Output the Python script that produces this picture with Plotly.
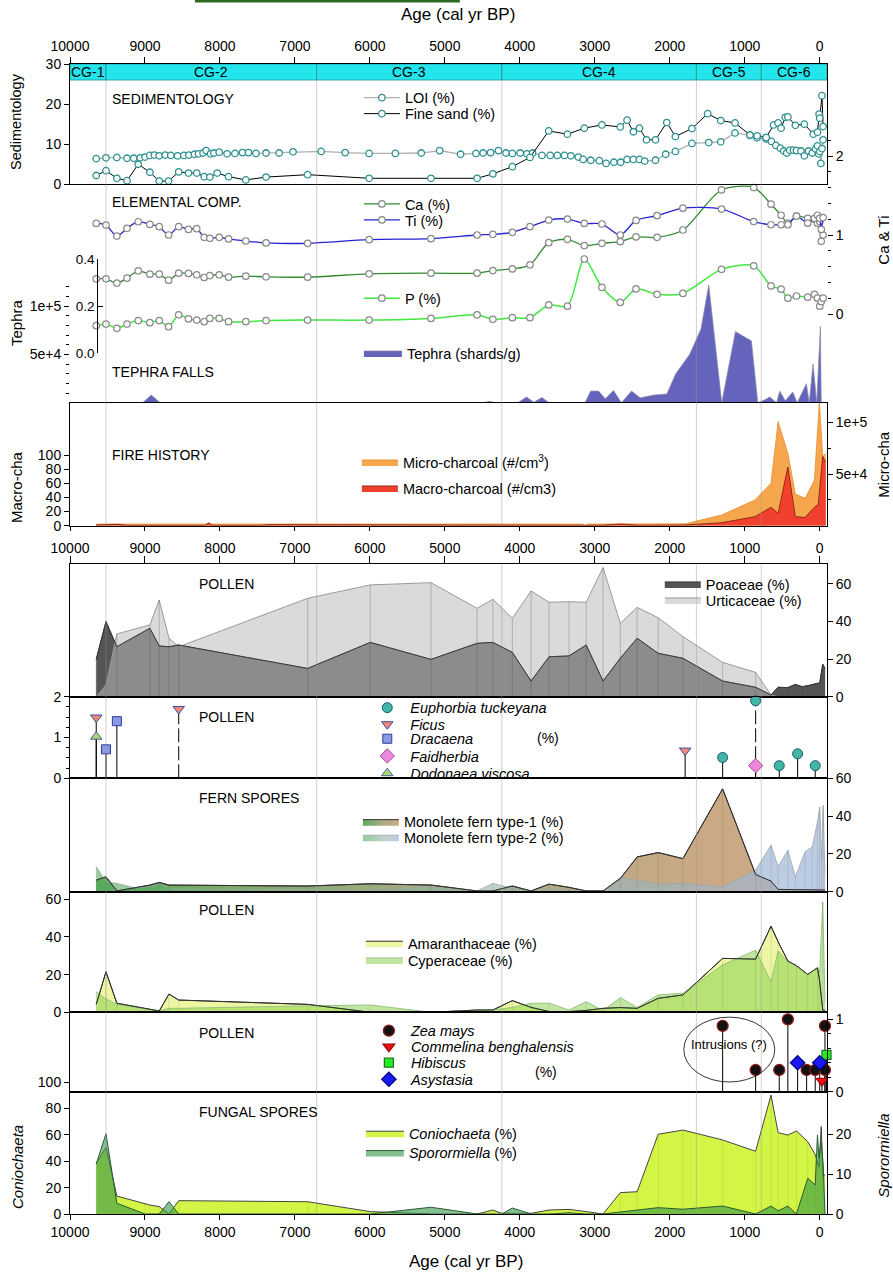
import plotly.graph_objects as go

# ---------------------------------------------------------------- data
age_ticks = list(range(0, 10001, 1000))
age_ticktext = [str(t) for t in age_ticks]
cg_bounds = [10000, 9520, 6710, 4240, 1645, 780, -97]
cg_labels = ["CG-1", "CG-2", "CG-3", "CG-4", "CG-5", "CG-6"]

# Sedimentology
loi_age = [9650, 9520, 9375, 9240, 9150, 9065, 9000, 8935, 8875, 8810, 8730, 8655, 8565, 8480, 8415,
           8340, 8285, 8225, 8185, 8125, 8080, 8010, 7905, 7800, 7700, 7620, 7520, 7385, 7210, 7025,
           6650, 6330, 6010, 5660, 5315, 5070, 4790, 4585, 4490, 4390, 4285, 4185, 4100, 3995, 3905,
           3830, 3705, 3595, 3500, 3405, 3320, 3220, 3155, 3055, 2940, 2850, 2745, 2655, 2570, 2485,
           2405, 2335, 2190, 2055, 1925, 1705, 1480, 1320, 1130, 930, 835, 715, 645, 585, 525,
           480, 440, 400, 350, 310, 250, 205, 150, 100, 55, 30, 15, 0, -15, -30, -45]
loi = [6.4, 6.6, 6.7, 6.5, 6.5, 6.6, 6.8, 7.2, 7.3, 7.1, 7.3, 7.2, 7.1, 7.2, 7.3,
       7.5, 7.6, 7.8, 8.4, 7.6, 7.8, 8.0, 7.6, 7.7, 7.9, 7.9, 7.7, 7.8, 7.8, 8.1,
       8.2, 7.9, 7.7, 7.7, 7.8, 8.4, 7.5, 7.7, 7.8, 7.9, 8.4, 7.8, 7.7, 7.8, 7.6,
       7.8, 7.2, 7.2, 7.2, 7.2, 7.1, 6.8, 6.2, 6.0, 5.9, 5.2, 5.5, 5.5, 6.2, 6.2,
       6.2, 5.8, 6.0, 7.5, 8.2, 10.2, 10.4, 10.6, 12.8, 12.2, 11.6, 11.3, 10.7, 9.7, 9.0,
       8.3, 7.8, 8.5, 8.5, 8.4, 8.3, 7.1, 8.3, 7.8, 8.8, 9.6, 7.6, 8.2, 5.2, 8.9, 11.1]
sand_age = [9650, 9520, 9375, 9240, 9090, 8935, 8810, 8685, 8550, 8420, 8310, 8210, 8135, 8035, 7885,
            7655, 7385, 6830, 6010, 5185, 4570, 4360, 4100, 3865, 3615, 3365, 3140, 2905, 2660, 2570,
            2485, 2405, 2310, 2190, 2040, 1925, 1705, 1495, 1320, 1130, 930, 835, 715, 615, 555,
            515, 460, 425, 325, 205, 85, 30, 8, 0, -30, -45]
sand = [2.2, 3.4, 1.5, 0.9, 5.0, 3.0, 0.8, 0.8, 3.1, 2.8, 2.8, 1.9, 1.8, 2.8, 1.9,
        1.1, 1.8, 2.4, 1.5, 1.5, 1.5, 2.6, 4.4, 6.7, 13.3, 12.5, 14.0, 14.8, 14.3, 16.0,
        13.1, 14.0, 11.1, 11.1, 15.4, 11.9, 13.9, 17.6, 15.9, 15.3, 12.3, 12.1, 11.7, 14.8, 15.3,
        14.0, 16.7, 16.8, 14.7, 15.0, 12.5, 13.0, 17.5, 16.5, 22.1, 14.4]

# Elemental composition
el_age = [9650, 9520, 9375, 9240, 9090, 8935, 8810, 8685, 8550, 8420, 8310, 8210, 8135, 8010, 7885,
          7655, 7385, 6830, 6010, 5185, 4570, 4360, 4100, 3865, 3615, 3365, 3140, 2905, 2660, 2450,
          2170, 1825, 1310, 880, 650, 515, 425, 310, 160, 70, 30, 0, -20, -45]
ti = [1.147, 1.126, 0.987, 1.084, 1.168, 1.134, 1.105, 1.0, 1.105, 1.071, 1.08, 0.97, 0.958, 0.97, 0.95,
      0.924, 0.90, 0.895, 0.941, 0.954, 1.0, 1.008, 1.034, 1.105, 1.189, 1.202, 1.147, 1.139, 1.0, 1.185,
      1.244, 1.34, 1.328, 1.17, 1.13, 1.13, 1.13, 1.24, 1.15, 1.21, 1.25, 1.21, 1.07, 1.22]
ca = [0.445, 0.445, 0.391, 0.454, 0.546, 0.504, 0.504, 0.428, 0.517, 0.513, 0.496, 0.462, 0.487, 0.496, 0.466,
      0.479, 0.471, 0.466, 0.508, 0.517, 0.517, 0.55, 0.571, 0.622, 0.903, 0.945, 0.866, 0.895, 0.916, 0.975,
      0.97, 1.063, 1.57, 1.60, 1.39, 1.25, 1.15, 1.24, 1.21, 1.20, 1.15, 1.17, 0.92, 1.0]
p_el = [0.117, 0.124, 0.106, 0.124, 0.139, 0.13, 0.139, 0.113, 0.163, 0.146, 0.141, 0.134, 0.148, 0.148, 0.134,
        0.134, 0.139, 0.141, 0.141, 0.148, 0.163, 0.144, 0.151, 0.151, 0.205, 0.20, 0.40, 0.28, 0.216, 0.273,
        0.25, 0.254, 0.356, 0.371, 0.286, 0.272, 0.234, 0.243, 0.238, 0.25, 0.234, 0.2, 0.219, 0.234]

# Tephra (shards/g)
teph_age = [9700, 9030, 8915, 8800, 4480, 4405, 4330, 4025, 3910, 3815, 3705, 3610, 3130, 3055, 2950,
            2860, 2750, 2645, 2510, 2395, 2205, 2040, 1920, 1735, 1585, 1480, 1307, 1124, 911, 826,
            730, 667, 575, 533, 460, 360, 300, 178, 140, 89, 40, -9, -20, -40]
teph = [0, 0, 8000, 0, 0, 1500, 0, 0, 6000, 500, 5300, 0, 0, 12000, 12000,
        4000, 12500, 0, 12000, 5000, 8000, 9000, 30000, 50000, 76000, 121800, 0, 73600, 63900, 0,
        3000, 6000, 0, 12000, 2000, 11000, 0, 19700, 0, 40000, 0, 79000, 0, 0]

# Fire history
micro_age = [9650, 8000, 6000, 4000, 3160, 3130, 3100, 2000, 1790, 1310, 865, 650, 555, 425, 325,
             195, 70, 5, -40, -80]
micro = [1600, 1800, 1800, 1600, 1600, 0, 1600, 1600, 1800, 10300, 24800, 41000, 100600, 70000, 30600,
         26500, 44200, 120000, 66800, 70000]
macro_age = [9650, 9350, 9250, 8200, 8150, 8100, 7450, 7350, 2900, 2650, 2400, 1790, 1310, 865, 650,
             555, 425, 325, 195, 70, 20, -40, -80]
macro = [1.0, 2.0, 0.5, 0.5, 4.0, 0.5, 0.5, 1.5, 0.5, 2.4, 0.5, 1.0, 4.2, 12.7, 26,
         17.5, 83, 12.7, 11.8, 26, 30, 98, 90]

# Pollen: Poaceae / Urticaceae
pol_age = [9650, 9520, 9375, 8935, 8810, 8680, 8550, 6830, 5995, 5185, 4570, 4360, 4100, 3850, 3610,
           3345, 3115, 2890, 2660, 2435, 2155, 1825, 1295, 855, 650, 555, 425, 325, 235, 160,
           30, 0, -40, -70]
poaceae = [19.8, 39.8, 26.5, 36.3, 26.9, 26.5, 27.4, 15.0, 28.8, 19.8, 28.3, 28.8, 23.5, 8.3, 21.2,
           21.6, 27.4, 8.3, 20.4, 31.0, 23.0, 20.4, 8.3, 5.0, 0.9, 5.0, 4.8, 6.5, 5.3, 5.8,
           7.1, 7.1, 17.2, 15.0]
urticaceae = [0, 6.2, 33.3, 38.1, 51.3, 31.0, 26.5, 52.2, 59.3, 60.5, 46.9, 51.7, 41.6, 56.1, 50.1,
              50.4, 50.1, 68.5, 38.9, 47.4, 41.9, 31.9, 18.2, 12.9, 0.9, 0, 0, 0, 0, 0,
              0, 0, 0, 0]

# Pollen: rare taxa (%)
euph_age = [1295, 855, 540, 295, 60]
euph = [0.51, 1.90, 0.31, 0.60, 0.31]
ficus_age = [9650, 8550, 1795]
ficus = [1.49, 1.70, 0.68]
drac_age = [9520, 9375]
drac = [0.71, 1.40]
faid_age = [855]
faid = [0.31]
dodo_age = [9650]
dodo = [1.02]
broken_stem_ages = [8550, 855]

# Fern spores
fern_age = [9650, 9520, 9375, 9140, 8935, 8810, 8680, 6830, 5995, 5185, 4570, 4360, 4100, 3850, 3610,
            3345, 3115, 2890, 2660, 2435, 2155, 1825, 1295, 855, 650, 555, 425, 325, 195, 100,
            30, 0, -25, -45, -70]
fern1 = [6.1, 7.9, 0.4, 2.1, 3.5, 4.9, 3.5, 3.0, 4.2, 3.5, 0.4, 0.4, 3.0, 0.4, 4.0,
         2.3, 0.4, 0.4, 7.0, 18.4, 20.7, 17.5, 54.4, 9.1, 5.6, 1.2, 1.2, 1.2, 0.9, 0.9,
         0.9, 0.9, 0.9, 0.9, 0.9]
fern2 = [13.2, 5.3, 4.4, 2.1, 2.6, 4.4, 1.4, 0.9, 0.7, 2.5, 0.4, 4.4, 1.8, 0.4, 1.4,
         0.9, 0.4, 0.4, 7.4, 6.1, 3.9, 4.4, 2.6, 11.4, 24.6, 13.2, 21.9, 7.9, 21.1, 23.7,
         36.8, 44.7, 17.5, 45.6, 9.6]

# Pollen: Amaranthaceae / Cyperaceae
am_age = [9650, 9520, 9375, 8810, 8680, 8550, 6830, 5995, 5185, 4570, 4360, 4100, 3850, 3610, 3345,
          3115, 2890, 2660, 2435, 2155, 1825, 1295, 855, 650, 555, 425, 310, 160, 30, 0,
          -40, -70]
amaranth = [4.2, 21.5, 4.8, 0.7, 9.7, 6.5, 4.2, 0, 0, 1.2, 1.2, 6.2, 2.6, 0.4, 0.4,
            1.0, 2.1, 2.5, 2.1, 7.4, 9.2, 28.6, 28.2, 45.7, 37.4, 27.2, 24.7, 20.1, 23.6, 16.2,
            1.2, 1.0]
cyper = [10.9, 7.1, 4.2, 0.7, 2.1, 2.1, 3.4, 3.9, 0, 1.2, 1.2, 2.6, 4.8, 4.8, 1.2,
         5.6, 0.9, 7.8, 2.6, 9.2, 10.1, 25.1, 33.0, 16.2, 32.5, 26.8, 24.7, 20.1, 23.6, 21.5,
         58.6, 5.6]

# Pollen: crop / intrusions (%)
zea_age = [1295, 855, 540, 425, 175, 60, -70, -70]
zea = [0.91, 0.30, 0.30, 1.0, 0.30, 0.30, 0.91, 0.30]
commel_age = [-30]
commel = [0.15]
hibis_age = [-90]
hibis = [0.51]
asyst_age = [295, 0]
asyst = [0.40, 0.40]

# Fungal spores
fung_age = [9650, 9520, 9375, 9000, 8935, 8810, 8680, 8550, 6830, 5995, 5185, 4570, 4360, 4240, 4100,
            3850, 3610, 3345, 3115, 2890, 2660, 2435, 2155, 1825, 1295, 855, 650, 555, 425, 310,
            160, 60, 30, 10, -20, -45, -70]
conio = [38.4, 50.2, 13.6, 7.5, 6.8, 5.6, 0, 10.1, 9.3, 1.8, 0, 0, 3.0, 0.5, 0.5,
         0.5, 3.0, 3.5, 1.8, 0, 16.2, 16.9, 60.4, 63.6, 56.1, 47.5, 90.1, 61.6, 59.8, 62.9,
         54.8, 45, 39.6, 35.9, 66.2, 28.3, 30]
spor = [12.6, 20.2, 2.7, 0, 0, 0, 3.1, 0, 0, 0, 1.7, 0, 0, 0, 1.5,
        0, 0, 0.3, 0, 0, 0.5, 1.0, 1.6, 1.2, 2.0, 0, 2.0, 0.8, 2.0, 0,
        9.0, 7.3, 19.9, 14.0, 18.2, 12.8, 0]

# ---------------------------------------------------------------- geometry
W, H = 893, 1276
ML, MR, MT, MB = 70, 65.7, 64, 62
PW = W - ML - MR
PH = H - MT - MB
FONT = "Liberation Sans, Arial, sans-serif"


def px(x):
    return (x - ML) / PW


def py(y):
    return (H - MB - y) / PH


def dom(top, bot):
    return [py(bot), py(top)]


XR = [10000, -97]


def xax(anchor, **kw):
    d = dict(range=XR, autorange=False, showgrid=False, zeroline=False, showline=True, mirror=True,
             linecolor="black", linewidth=1, tickmode="array", tickvals=age_ticks, ticktext=age_ticktext,
             ticks="", showticklabels=False, anchor=anchor, domain=[0, 1], fixedrange=True,
             tickfont=dict(family=FONT, size=14, color="black"), tickcolor="black")
    d.update(kw)
    return d


def yax(domain, rng, **kw):
    d = dict(domain=domain, range=rng, autorange=False, showgrid=False, zeroline=False, showline=False,
             ticks="", showticklabels=False, fixedrange=True, tickcolor="black", linecolor="black",
             tickfont=dict(family=FONT, size=14, color="black"))
    d.update(kw)
    return d


def frame(domain, rng, **kw):
    return yax(domain, rng, showline=True, mirror=True, linewidth=1, **kw)


layout = dict(width=W, height=H, margin=dict(l=ML, r=MR, t=MT, b=MB, pad=0),
              paper_bgcolor="white", plot_bgcolor="rgba(0,0,0,0)", showlegend=True,
              font=dict(family=FONT, size=14, color="black"))

# x axes
layout["xaxis"] = xax("y", side="top", ticks="outside", ticklen=6, showticklabels=True)
layout["xaxis2"] = xax("y2")
layout["xaxis3"] = xax("y6", side="bottom", ticks="outside", ticklen=4, showticklabels=True,
                       ticklabelstandoff=5)
layout["xaxis4"] = xax("y8", side="top", ticks="outside", ticklen=7)
layout["xaxis5"] = xax("y9")
layout["xaxis6"] = xax("y10")
layout["xaxis7"] = xax("y11")
layout["xaxis8"] = xax("y12")
layout["xaxis9"] = xax("y13", side="bottom", ticks="outside", ticklen=5, showticklabels=True)

# y axes
layout["yaxis"] = frame(dom(64, 184.3), [0, 30], anchor="x", side="left", ticks="outside", ticklen=5,
                        showticklabels=True, tickvals=[0, 10, 20, 30])
layout["yaxis2"] = frame(dom(184.3, 402.7), [0, 1], anchor="x2")
layout["yaxis3"] = yax(dom(140.2, 314), [0, 2.2], anchor="x2", side="right", ticks="outside", ticklen=5,
                       showticklabels=True, tickvals=[0, 1, 2],
                       minor=dict(tickmode="array", tickvals=[0.2, 0.4, 0.6, 0.8, 1.2, 1.4, 1.6, 1.8, 2.2],
                                  ticks="outside", ticklen=3, tickcolor="black"))
layout["yaxis4"] = yax(dom(259, 353.3), [0, 0.4], anchor="free", position=px(97.3), side="left",
                       showline=True, ticks="inside", ticklen=5, showticklabels=True,
                       tickvals=[0, 0.2, 0.4], ticktext=["0.0", "0.2", "0.4"],
                       tickfont=dict(family=FONT, size=13.5, color="black"))
layout["yaxis5"] = yax(dom(280, 402.7), [0, 127000], anchor="x2", side="left", ticks="outside", ticklen=5,
                       showticklabels=True, tickvals=[50000, 100000], ticktext=["5e+4", "1e+5"],
                       minor=dict(tickmode="array", tickvals=[10000, 20000, 30000, 40000, 60000, 70000,
                                                              80000, 90000, 110000, 120000],
                                  ticks="outside", ticklen=3, tickcolor="black"))
layout["yaxis6"] = frame(dom(402.7, 525.7), [0, 118955], anchor="x3", side="right", ticks="outside",
                         ticklen=5, showticklabels=True, tickvals=[50000, 100000], ticktext=["5e+4", "1e+5"],
                         minor=dict(tickmode="array", tickvals=[25000, 75000], ticks="outside", ticklen=3,
                                    tickcolor="black"))
layout["yaxis7"] = yax(dom(402.7, 525.7), [0, 174.1], overlaying="y6", anchor="x3", side="left",
                       ticks="outside", ticklen=5, showticklabels=True, tickvals=[0, 20, 40, 60, 80, 100])
layout["yaxis8"] = frame(dom(564.3, 696.7), [0, 70.24], anchor="x4", side="right", ticks="outside",
                         ticklen=5, showticklabels=True, tickvals=[0, 20, 40, 60])
layout["yaxis9"] = frame(dom(696.7, 778.3), [0, 2], anchor="x5", side="left", ticks="outside",
                         ticklen=5, showticklabels=True, tickvals=[0, 1, 2],
                         minor=dict(tickmode="array", tickvals=[0.25, 0.5, 0.75, 1.25, 1.5, 1.75],
                                    ticks="outside", ticklen=3, tickcolor="black"))
layout["yaxis10"] = frame(dom(778.3, 891.7), [0, 60], anchor="x6", side="right", ticks="outside",
                          ticklen=5, showticklabels=True, tickvals=[0, 20, 40, 60])
layout["yaxis11"] = frame(dom(891.7, 1012.3), [0, 63.98], anchor="x7", side="left", ticks="outside",
                          ticklen=5, showticklabels=True, tickvals=[0, 20, 40, 60])
layout["yaxis12"] = frame(dom(1012.3, 1091.7), [0, 1.0967], anchor="x8", side="right", ticks="outside",
                          ticklen=5, showticklabels=True, tickvals=[0, 1],
                          minor=dict(tickmode="array", tickvals=[0.2, 0.4, 0.6, 0.8], ticks="outside",
                                     ticklen=3, tickcolor="black"))
layout["yaxis13"] = frame(dom(1091.7, 1214), [0, (1214 - 1091.7) * 100 / 132.0], anchor="x9", side="left")
layout["yaxis14"] = yax(dom(1091.7, 1214), [0, 30.8], overlaying="y13", anchor="x9", side="right",
                        ticks="outside", ticklen=5, showticklabels=True, tickvals=[0, 10, 20])
layout["yaxis15"] = yax(dom(1082, 1214), [0, 100], anchor="x9", side="left", ticks="outside", ticklen=5,
                        showticklabels=True, tickvals=[0, 20, 40, 60, 80, 100])

# ---------------------------------------------------------------- traces
traces = []
legends = {}
leg_n = [0]


def new_legend(x_left, y_mid, iw=36):
    leg_n[0] += 1
    key = "legend" if leg_n[0] == 1 else "legend%d" % leg_n[0]
    legends[key] = dict(x=px(x_left), y=py(y_mid), xanchor="left", yanchor="middle",
                        bgcolor="rgba(0,0,0,0)", borderwidth=0, itemwidth=max(30, iw),
                        font=dict(family=FONT, size=14.5, color="black"), itemclick=False,
                        itemdoubleclick=False, tracegroupgap=0)
    return key


def stems(xs, tops):
    X, Y = [], []
    for a, t in zip(xs, tops):
        X += [a, a, None]
        Y += [0, t, None]
    return X, Y


def vline_trace(xs, tops, xa, ya, color, width=0.8, dash=None):
    X, Y = stems(xs, tops)
    return go.Scatter(x=X, y=Y, mode="lines", line=dict(color=color, width=width, dash=dash),
                      xaxis=xa, yaxis=ya, showlegend=False, hoverinfo="skip")


# Sedimentology
teal = "#2b8f8f"
traces.append(go.Scatter(x=loi_age, y=loi, mode="lines+markers", name="LOI (%)",
                         line=dict(color="#b0b0b0", width=1.3),
                         marker=dict(symbol="circle", size=6.5, color="white", line=dict(color=teal, width=1.3)),
                         xaxis="x", yaxis="y", cliponaxis=False, legend=new_legend(359, 97.7)))
traces.append(go.Scatter(x=sand_age, y=sand, mode="lines+markers", name="Fine sand (%)",
                         line=dict(color="black", width=1),
                         marker=dict(symbol="circle", size=6.5, color="white", line=dict(color=teal, width=1.3)),
                         xaxis="x", yaxis="y", cliponaxis=False, legend=new_legend(359, 113.7)))

# Tephra
traces.append(go.Scatter(x=teph_age, y=teph, mode="lines", fill="tozeroy", name="Tephra (shards/g)",
                         fillcolor="#6464bc", line=dict(color="#8a8aa8", width=0.7),
                         xaxis="x2", yaxis="y5", legend=new_legend(359, 353, 38)))

# Elemental
gm = dict(symbol="circle", size=6.5, color="white", line=dict(color="#8a8a8a", width=1.2))
traces.append(go.Scatter(x=el_age, y=ca, mode="lines+markers", name="Ca (%)", line=dict(color="#2e8b2e", width=1.3,
                         shape="spline", smoothing=0.8), marker=gm, xaxis="x2", yaxis="y3", cliponaxis=False,
                         legend=new_legend(359, 204)))
traces.append(go.Scatter(x=el_age, y=ti, mode="lines+markers", name="Ti (%)", line=dict(color="#2424d4", width=1.3,
                         shape="spline", smoothing=0.8), marker=gm, xaxis="x2", yaxis="y3", cliponaxis=False,
                         legend=new_legend(359, 220)))
traces.append(go.Scatter(x=el_age, y=p_el, mode="lines+markers", name="P (%)", line=dict(color="#3ee83e", width=1.5,
                         shape="spline", smoothing=0.8), marker=gm, xaxis="x2", yaxis="y4", cliponaxis=False,
                         legend=new_legend(359, 298.3)))

# Fire history
traces.append(go.Scatter(x=micro_age, y=micro, mode="lines", fill="tozeroy", name="Micro-charcoal (#/cm<sup>3</sup>)",
                         fillcolor="#f6a64c", line=dict(color="#e88c30", width=0.8),
                         xaxis="x3", yaxis="y6", legend=new_legend(357, 462)))
traces.append(go.Scatter(x=macro_age, y=macro, mode="lines", fill="tozeroy", name="Macro-charcoal (#/cm3)",
                         fillcolor="#f2402e", line=dict(color="#7a1a12", width=0.8),
                         xaxis="x3", yaxis="y7", legend=new_legend(357, 488)))

# Pollen Poaceae / Urticaceae
traces.append(go.Scatter(x=pol_age, y=poaceae, mode="lines", fill="tozeroy", name="Poaceae (%)",
                         fillcolor="#555555", line=dict(color="#333333", width=1),
                         xaxis="x4", yaxis="y8", legend=new_legend(660, 584)))
traces.append(go.Scatter(x=pol_age, y=urticaceae, mode="lines", fill="tozeroy", name="Urticaceae (%)",
                         fillcolor="rgba(187,187,187,0.54)", line=dict(color="#9a9a9a", width=1),
                         xaxis="x4", yaxis="y8", legend=new_legend(660, 600)))
pt = [max(a, b) for a, b in zip(poaceae, urticaceae)]
traces.append(vline_trace(pol_age, pt, "x4", "y8", "rgba(70,70,70,0.35)", 0.8))
traces.append(go.Scatter(x=pol_age, y=poaceae, mode="lines", line=dict(color="#3a3a3a", width=1),
                         xaxis="x4", yaxis="y8", showlegend=False, hoverinfo="skip"))

# Rare pollen taxa (lollipops)
all_x = euph_age + ficus_age + drac_age + faid_age + dodo_age
all_y = euph + ficus + drac + faid + dodo
solid_x = [a for a in all_x if a not in broken_stem_ages]
solid_y = [v for a, v in zip(all_x, all_y) if a not in broken_stem_ages]
dash_x = [a for a in all_x if a in broken_stem_ages]
dash_y = [v for a, v in zip(all_x, all_y) if a in broken_stem_ages]
traces.append(vline_trace(solid_x, solid_y, "x5", "y9", "black", 1))
traces.append(vline_trace(dash_x, dash_y, "x5", "y9", "black", 1, "14px,4px"))
rare = [
    ("<i>Euphorbia tuckeyana</i>", euph_age, euph, "circle", 10, "#3fb6a8", "#1e5c6a", 707.7),
    ("<i>Ficus</i>", ficus_age, ficus, "triangle-down", 10, "#f08a78", "#3a4aa8", 724.3),
    ("<i>Dracaena</i>", drac_age, drac, "square", 9, "#8a9ae6", "#2a3a9a", 738.8),
    ("<i>Faidherbia</i>", faid_age, faid, "diamond", 11, "#ee88dd", "#9a4a9a", 756),
    ("<i>Dodonaea viscosa</i>", dodo_age, dodo, "triangle-up", 10, "#a8d868", "#4a5ab0", 773.3),
]
for name, xs, ys, sym, sz, fc, lc, ly in rare:
    traces.append(go.Scatter(x=xs, y=ys, mode="markers", name=name,
                             marker=dict(symbol=sym, size=sz, color=fc, line=dict(color=lc, width=1)),
                             xaxis="x5", yaxis="y9", cliponaxis=False, legend=new_legend(364.4, ly, 36)))

# Fern spores
traces.append(go.Scatter(x=fern_age, y=fern1, mode="lines", fill="tozeroy", name="Monolete fern type-1 (%)",
                         fillgradient=dict(type="horizontal", start=9700, stop=1400,
                                           colorscale=[[0, "#5fa85a"], [0.55, "#a9ab84"], [1, "#cba985"]]),
                         line=dict(color="#333333", width=1), xaxis="x6", yaxis="y10",
                         legend=new_legend(358, 821.7)))
traces.append(go.Scatter(x=fern_age, y=fern2, mode="lines", fill="tozeroy", name="Monolete fern type-2 (%)",
                         fillgradient=dict(type="horizontal", start=9700, stop=500,
                                           colorscale=[[0, "rgba(80,170,90,0.6)"], [0.6, "rgba(150,180,170,0.6)"],
                                                       [1, "rgba(160,182,214,0.7)"]]),
                         line=dict(color="#9aa6a8", width=0.8), xaxis="x6", yaxis="y10",
                         legend=new_legend(358, 837.3)))
ft = [max(a, b) for a, b in zip(fern1, fern2)]
traces.append(vline_trace(fern_age, ft, "x6", "y10", "rgba(0,0,0,0.12)", 0.8))
traces.append(go.Scatter(x=fern_age, y=fern1, mode="lines", line=dict(color="#333333", width=1),
                         xaxis="x6", yaxis="y10", showlegend=False, hoverinfo="skip"))

# Amaranthaceae / Cyperaceae
traces.append(go.Scatter(x=am_age, y=amaranth, mode="lines", fill="tozeroy", name="Amaranthaceae (%)",
                         fillcolor="#eef6a4", line=dict(color="#333333", width=1),
                         xaxis="x7", yaxis="y11", legend=new_legend(361, 943.3, 37)))
traces.append(go.Scatter(x=am_age, y=cyper, mode="lines", fill="tozeroy", name="Cyperaceae (%)",
                         fillcolor="rgba(130,205,70,0.5)", line=dict(color="#93c07a", width=0.9),
                         xaxis="x7", yaxis="y11", legend=new_legend(361, 960, 37)))
at = [max(a, b) for a, b in zip(amaranth, cyper)]
traces.append(vline_trace(am_age, at, "x7", "y11", "rgba(0,0,0,0.12)", 0.8))
traces.append(go.Scatter(x=am_age, y=amaranth, mode="lines", line=dict(color="#333333", width=1),
                         xaxis="x7", yaxis="y11", showlegend=False, hoverinfo="skip"))

# Crop pollen (Zea etc.)
zx = zea_age + commel_age + hibis_age + asyst_age
zy = zea + commel + hibis + asyst
traces.append(vline_trace(zx, zy, "x8", "y12", "black", 1))
crop = [
    ("<i>Zea mays</i>", zea_age, zea, "circle", 11, "#111111", "#8b1a1a", 1030.7),
    ("<i>Commelina benghalensis</i>", commel_age, commel, "triangle-down", 10, "#ee1111", "#aa0000", 1046.7),
    ("<i>Hibiscus</i>", hibis_age, hibis, "square", 9, "#22ee22", "#227722", 1062.7),
    ("<i>Asystasia</i>", asyst_age, asyst, "diamond", 11, "#1a1aee", "#000088", 1079.3),
]
for name, xs, ys, sym, sz, fc, lc, ly in crop:
    traces.append(go.Scatter(x=xs, y=ys, mode="markers", name=name,
                             marker=dict(symbol=sym, size=sz, color=fc, line=dict(color=lc, width=1.3)),
                             xaxis="x8", yaxis="y12", cliponaxis=False, legend=new_legend(367, ly, 34)))

# Fungal spores
traces.append(go.Scatter(x=fung_age, y=conio, mode="lines", fill="tozeroy", name="<i>Coniochaeta</i> (%)",
                         fillcolor="#d3f545", line=dict(color="#444444", width=1),
                         xaxis="x9", yaxis="y13", legend=new_legend(361, 1133.3, 38)))
traces.append(go.Scatter(x=fung_age, y=spor, mode="lines", fill="tozeroy", name="<i>Sporormiella</i> (%)",
                         fillcolor="rgba(50,150,70,0.6)", line=dict(color="#2a5a34", width=1),
                         xaxis="x9", yaxis="y14", legend=new_legend(361, 1152.7, 38)))
traces.append(vline_trace(fung_age, conio, "x9", "y13", "rgba(0,0,0,0.10)", 0.8))
# Coniochaeta tick axis (extends up to 100 %): carries the same series invisibly so the axis is drawn
traces.append(go.Scatter(x=fung_age, y=conio, mode="lines", line=dict(width=0, color="rgba(0,0,0,0)"),
                         xaxis="x9", yaxis="y15", showlegend=False, hoverinfo="skip"))

for k, v in legends.items():
    layout[k] = v

# ---------------------------------------------------------------- shapes
shapes = []
for i in range(len(cg_labels)):
    shapes.append(dict(type="rect", xref="x", yref="y", x0=cg_bounds[i], x1=cg_bounds[i + 1], y0=26, y1=30,
                       fillcolor="#22e5ee", line=dict(color="#2b8f8f", width=0.8), layer="above"))
for b in cg_bounds[1:-1]:
    for y0, y1 in [(525.7, 80.5), (1214, 564.3)]:
        shapes.append(dict(type="line", xref="x", yref="paper", x0=b, x1=b, y0=py(y0), y1=py(y1),
                           line=dict(color="rgba(150,150,150,0.45)", width=1), layer="above"))
shapes.append(dict(type="circle", xref="x8", yref="y12", x0=1813, x1=600, y0=0.134, y1=1.03,
                   line=dict(color="black", width=0.8)))
shapes.append(dict(type="rect", xref="paper", yref="paper", x0=px(195), x1=px(460), y0=py(2.5), y1=py(0),
                   fillcolor="#2d6a1f", line=dict(width=0)))
layout["shapes"] = shapes

# ---------------------------------------------------------------- annotations
ann = []


def text(x, y, s, size=14, anchor="left", angle=0, italic=False):
    if italic:
        s = "<i>%s</i>" % s
    ann.append(dict(x=px(x), y=py(y), xref="paper", yref="paper", text=s, showarrow=False,
                    xanchor=anchor, yanchor="middle", textangle=angle,
                    font=dict(family=FONT, size=size, color="black")))


for i, lab in enumerate(cg_labels):
    ann.append(dict(x=(cg_bounds[i] + cg_bounds[i + 1]) / 2, y=28, xref="x", yref="y", text=lab,
                    showarrow=False, font=dict(family=FONT, size=14, color="black")))

text(458, 14, "Age (cal yr BP)", 17, "center")
text(466, 1261, "Age (cal yr BP)", 17, "center")
text(16, 122, "Sedimentology", 14.5, "center", -90)
text(16, 323, "Tephra", 15, "center", -90)
text(16, 487, "Macro-cha", 15, "center", -90)
text(17, 1167, "Coniochaeta", 15, "center", -90, italic=True)
text(883, 240, "Ca &amp; Ti", 15, "center", -90)
text(883, 464, "Micro-cha", 15, "center", -90)
text(883, 1156, "Sporormiella", 15, "center", -90, italic=True)

text(110, 99, "SEDIMENTOLOGY")
text(110, 201.7, "ELEMENTAL COMP.")
text(110, 371.7, "TEPHRA FALLS")
text(110, 455, "FIRE HISTORY")
text(197, 584.3, "POLLEN")
text(197, 717.3, "POLLEN")
text(197, 798.3, "FERN SPORES")
text(197, 910, "POLLEN")
text(197, 1032.7, "POLLEN")
text(197, 1112.3, "FUNGAL SPORES")
text(535, 738.3, "(%)", 14, "left")
text(533, 1071.7, "(%)", 14, "left")
text(729, 1044.3, "Intrusions (?)", 13, "center")
layout["annotations"] = ann

fig = go.Figure(data=traces, layout=layout)
fig.write_html("out.html", config={"displayModeBar": False, "staticPlot": True},
               post_script="document.body.style.margin='0';document.body.style.overflow='hidden';")
